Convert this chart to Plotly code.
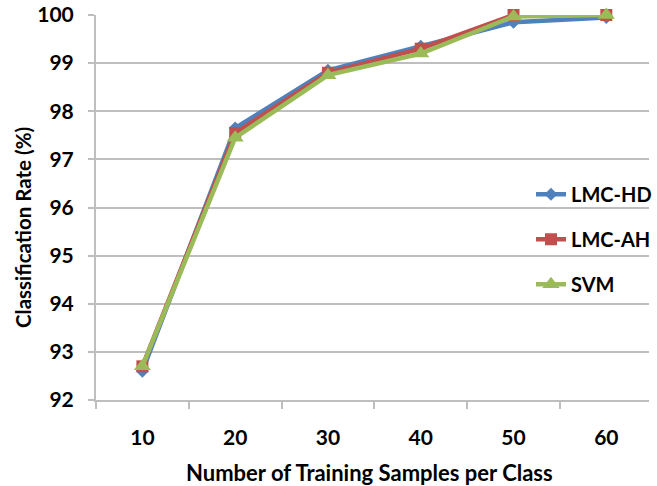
import plotly.graph_objects as go

samples = [10, 20, 30, 40, 50, 60]
tick_labels = ["10", "20", "30", "40", "50", "60"]
lmc_hd = [92.6, 97.65, 98.85, 99.35, 99.85, 99.95]
lmc_ah = [92.7, 97.55, 98.8, 99.3, 100.0, 100.0]
svm = [92.7, 97.45, 98.75, 99.2, 99.97, 100.0]

FONT = "Lato"
GRID = "#BEBEBE"

fig = go.Figure()
series = [
    ("LMC-HD", lmc_hd, "#4F81BD", "diamond", 10),
    ("LMC-AH", lmc_ah, "#C0504D", "square", 12),
    ("SVM", svm, "#9BBB59", "triangle-up", 15),
]
for name, vals, color, sym, size in series:
    fig.add_trace(go.Scatter(
        x=samples, y=vals, name=name, mode="lines+markers",
        line=dict(color=color, width=4.5),
        marker=dict(symbol=sym, size=size, color=color),
        legendgroup=name, cliponaxis=False,
    ))

fig.update_layout(
    width=657, height=486,
    margin=dict(l=96, r=0, t=15, b=86),
    paper_bgcolor="white", plot_bgcolor="white",
    font=dict(family=FONT, size=20, color="black"),
    showlegend=True,
    legend=dict(
        x=0.787, xanchor="left", y=0.585, yanchor="top",
        bgcolor="rgba(0,0,0,0)", traceorder="grouped", tracegroupgap=16,
        font=dict(family=FONT, size=20, color="black", weight="bold"),
    ),
    xaxis=dict(
        range=[5, 64.6], tickmode="array", tickvals=samples, ticktext=tick_labels,
        ticks="", ticklabelstandoff=18, showgrid=False,
        showline=True, linecolor=GRID, linewidth=2,
        tickfont=dict(family=FONT, size=21, color="black", weight="bold"),
        minor=dict(tick0=5, dtick=10, ticks="outside", ticklen=7, tickcolor=GRID,
                   tickwidth=2, showgrid=False),
        zeroline=False,
    ),
    yaxis=dict(
        range=[92, 100], dtick=1, tick0=92, showgrid=True, gridcolor=GRID, gridwidth=2,
        showline=True, linecolor=GRID, linewidth=2,
        ticks="outside", ticklen=6, tickcolor=GRID, tickwidth=2, ticklabelstandoff=10,
        tickfont=dict(family=FONT, size=21, color="black", weight="bold"),
        zeroline=False,
    ),
    annotations=[
        dict(text="Classification Rate (%)", textangle=-90, xref="paper", yref="paper",
             x=-0.1319, y=0.447, xanchor="center", yanchor="middle", showarrow=False,
             font=dict(family=FONT, size=20.5, color="black", weight="bold")),
        dict(text="Number of Training Samples per Class", xref="paper", yref="paper",
             x=0.494, y=-0.188, xanchor="center", yanchor="middle", showarrow=False,
             font=dict(family=FONT, size=22, color="black", weight="bold")),
    ],
)

fig.write_html("out.html", config={"displayModeBar": False},
               post_script="document.body.style.margin='0';")
